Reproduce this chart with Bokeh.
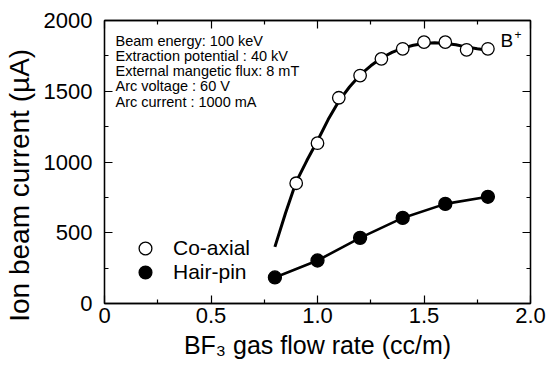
from bokeh.plotting import figure
from bokeh.models import (Range1d, LinearAxis, FixedTicker, Label, Legend, LegendItem,
                          CustomJSTickFormatter)
from bokeh.embed import file_html
from bokeh.resources import INLINE

# ---- data ----
coax_x = [0.9, 1.0, 1.1, 1.2, 1.3, 1.4, 1.5, 1.6, 1.7, 1.8]
coax_y = [850, 1133, 1454, 1611, 1729, 1800, 1847, 1847, 1793, 1800]

coax_fit_x = [0.8, 0.85, 0.9, 0.95, 1.0, 1.05, 1.1, 1.15, 1.2, 1.25, 1.3,
              1.35, 1.4, 1.45, 1.5, 1.55, 1.6, 1.65, 1.7, 1.75, 1.8]
coax_fit_y = [400, 640, 860, 1010, 1150, 1300, 1430, 1530, 1615, 1680, 1735,
              1775, 1805, 1825, 1838, 1842, 1838, 1828, 1812, 1800, 1790]

hair_x = [0.8, 1.0, 1.2, 1.4, 1.6, 1.8]
hair_y = [184, 304, 464, 605, 704, 754]

x_ticks = [0, 0.5, 1.0, 1.5, 2.0]
x_tick_labels = ["0", "0.5", "1.0", "1.5", "2.0"]
y_ticks = [0, 500, 1000, 1500, 2000]

conditions = [
    "Beam energy: 100 keV",
    "Extraction potential : 40 kV",
    "External mangetic flux: 8 mT",
    "Arc voltage : 60 V",
    "Arc current : 1000 mA",
]

FONT = "Liberation Sans"

p = figure(width=550, height=374, output_backend="svg", toolbar_location=None,
           x_range=Range1d(0, 2), y_range=Range1d(0, 2000),
           min_border_left=104, min_border_right=20, min_border_top=20,
           min_border_bottom=71, background_fill_color="white",
           border_fill_color="white")
p.xgrid.visible = False
p.ygrid.visible = False
p.outline_line_color = "black"
p.outline_line_width = 1.3


def style_axis(ax):
    ax.axis_line_color = "black"
    ax.axis_line_width = 1.3
    ax.major_tick_in = 8
    ax.major_tick_out = 0
    ax.minor_tick_in = 4
    ax.minor_tick_out = 0
    ax.major_tick_line_color = "black"
    ax.minor_tick_line_color = "black"
    ax.major_tick_line_width = 1.2
    ax.minor_tick_line_width = 1.2
    ax.major_label_text_font = FONT
    ax.major_label_text_color = "black"
    ax.major_label_text_font_size = "22px"
    ax.axis_label_text_font = FONT
    ax.axis_label_text_color = "black"
    ax.axis_label_text_font_style = "normal"


xt = FixedTicker(ticks=x_ticks, minor_ticks=[0.25, 0.75, 1.25, 1.75])
yt = FixedTicker(ticks=y_ticks, minor_ticks=[250, 750, 1250, 1750])

xa = p.xaxis[0]
xa.ticker = xt
xa.major_label_overrides = dict(zip(x_ticks, x_tick_labels))
style_axis(xa)
xa.major_label_standoff = 4
xa.axis_label = "BF\u2083 gas flow rate (cc/m)"
xa.axis_label_text_font_size = "25px"
xa.axis_label_standoff = 5

ya = p.yaxis[0]
ya.ticker = yt
style_axis(ya)
ya.major_label_standoff = 12
# trailing no-break spaces shift the visible title lower, as in the reference
ya.axis_label = "Ion beam current (\u00b5A)" + "\u00a0" * 6
ya.axis_label_text_font_size = "28px"
ya.axis_label_standoff = 6

blank = CustomJSTickFormatter(code="return ''")
top = LinearAxis(ticker=xt, formatter=blank)
style_axis(top)
top.major_label_standoff = 0
p.add_layout(top, "above")
right = LinearAxis(ticker=yt, formatter=blank)
style_axis(right)
right.major_label_standoff = 0
p.add_layout(right, "right")

# ---- data ----
p.line(coax_fit_x, coax_fit_y, line_color="black", line_width=3)
p.line(hair_x, hair_y, line_color="black", line_width=2.6)
r_coax = p.scatter(coax_x, coax_y, size=12.5, marker="circle", fill_color="white",
                   line_color="black", line_width=1.3)
r_hair = p.scatter(hair_x, hair_y, size=13, marker="circle", fill_color="black",
                   line_color="black", line_width=1.3)

leg_common = dict(orientation="vertical", glyph_width=32, glyph_height=32,
                  label_height=20, label_standoff=12, spacing=0, padding=0,
                  margin=0, border_line_alpha=0, background_fill_alpha=0,
                  label_text_font=FONT, label_text_font_size="21px",
                  label_text_color="black")
p.add_layout(Legend(items=[LegendItem(label="Co-axial", renderers=[r_coax])],
                    location=(25, 39), **leg_common), "center")
p.add_layout(Legend(items=[LegendItem(label="Hair-pin", renderers=[r_hair])],
                    location=(25, 15), **leg_common), "center")

# ---- annotations ----
for i, t in enumerate(conditions):
    p.add_layout(Label(x=11, y=263 - i * 15.25, x_units="screen", y_units="screen",
                       text=t, text_font=FONT, text_font_size="14.5px",
                       text_color="black", text_baseline="alphabetic"))

p.add_layout(Label(x=396, y=263, x_units="screen", y_units="screen", text="B",
                   text_font=FONT, text_font_size="19px", text_color="black",
                   text_baseline="middle"))
p.add_layout(Label(x=410, y=269, x_units="screen", y_units="screen", text="+",
                   text_font=FONT, text_font_size="12px", text_color="black",
                   text_baseline="alphabetic"))

open("out.html", "w").write(file_html(p, INLINE))
